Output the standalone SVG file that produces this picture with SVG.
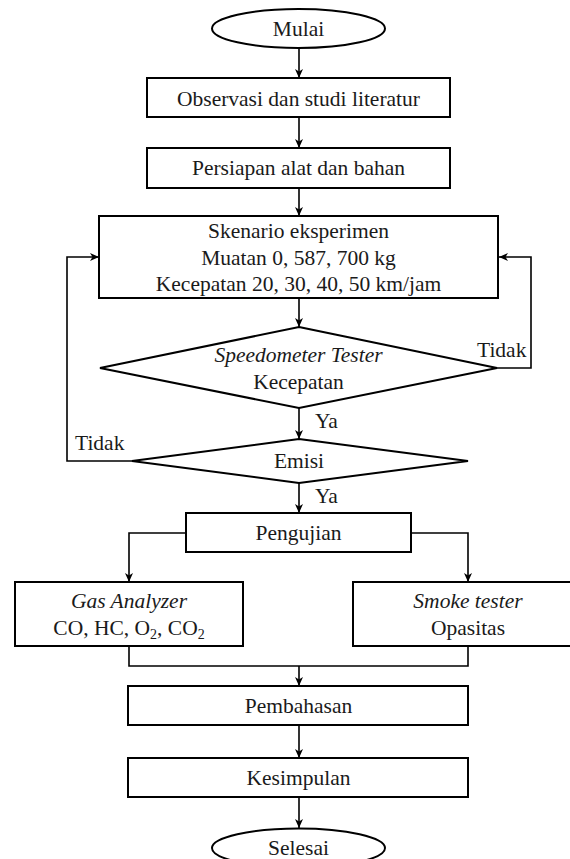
<svg xmlns="http://www.w3.org/2000/svg" width="570" height="859" viewBox="0 0 570 859">
<defs>
<style>
.n{fill:#fff;stroke:#000;stroke-width:2}
.t{font-family:'Liberation Serif','DejaVu Serif',serif;font-size:21.5px;fill:#1a1a1a;text-anchor:middle}
.l{font-family:'Liberation Serif','DejaVu Serif',serif;font-size:21.5px;fill:#1a1a1a}
.i{font-style:italic}
.c{fill:none;stroke:#000;stroke-width:1.6}
.a{marker-end:url(#ah)}
</style>
<marker id="ah" markerUnits="userSpaceOnUse" markerWidth="10" markerHeight="10" refX="9" refY="4" orient="auto">
<path d="M0,0 L9,4 L0,8 L2.5,4 z" fill="#000"/>
</marker>
</defs>
<rect width="570" height="859" fill="#fff"/>
<g id="connectors">
<line class="c a" x1="299" y1="48" x2="299" y2="78"/>
<line class="c a" x1="299" y1="117" x2="299" y2="148"/>
<line class="c a" x1="299" y1="188" x2="299" y2="216"/>
<line class="c a" x1="299" y1="298" x2="299" y2="327"/>
<line class="c a" x1="299" y1="408" x2="299" y2="439"/>
<polyline class="c a" points="497,368 531,368 531,257 499,257"/>
<polyline class="c a" points="132,461 67,461 67,257 99,257"/>
<line class="c a" x1="299" y1="483" x2="299" y2="513"/>
<polyline class="c a" points="186,533 129,533 129,582"/>
<polyline class="c a" points="411,533 468,533 468,582"/>
<polyline class="c" points="129,646 129,666 468,666 468,646"/>
<line class="c a" x1="299" y1="666" x2="299" y2="686"/>
<line class="c a" x1="299" y1="725" x2="299" y2="758"/>
<line class="c a" x1="299" y1="797" x2="299" y2="828"/>
<text class="l" font-family="Liberation Serif, serif" x="315" y="428">Ya</text>
<text class="l" font-family="Liberation Serif, serif" x="315" y="503">Ya</text>
<text class="l" font-family="Liberation Serif, serif" x="477" y="357">Tidak</text>
<text class="l" font-family="Liberation Serif, serif" x="75" y="450">Tidak</text>
</g>
<g id="mulai">
<ellipse class="n" cx="298.5" cy="28.5" rx="86.5" ry="19.5"/>
<text class="t" font-family="Liberation Serif, serif" x="298.5" y="36">Mulai</text>
</g>
<g id="observasi">
<rect class="n" x="147" y="78" width="303" height="39"/>
<text class="t" font-family="Liberation Serif, serif" x="298.5" y="106">Observasi dan studi literatur</text>
</g>
<g id="persiapan">
<rect class="n" x="147" y="148" width="303" height="40"/>
<text class="t" font-family="Liberation Serif, serif" x="298.5" y="175">Persiapan alat dan bahan</text>
</g>
<g id="skenario">
<rect class="n" x="99" y="216" width="399" height="82"/>
<text class="t" font-family="Liberation Serif, serif" x="298.5" y="238">Skenario eksperimen</text>
<text class="t" font-family="Liberation Serif, serif" x="298.5" y="265">Muatan 0, 587, 700 kg</text>
<text class="t" font-family="Liberation Serif, serif" x="298.5" y="291">Kecepatan 20, 30, 40, 50 km/jam</text>
</g>
<g id="speedometer">
<polygon class="n" points="299,327 497,368 299,408 100,368"/>
<text class="t i" font-family="Liberation Serif, serif" x="298.5" y="362">Speedometer Tester</text>
<text class="t" font-family="Liberation Serif, serif" x="298.5" y="389">Kecepatan</text>
</g>
<g id="emisi">
<polygon class="n" points="299,439 468,461 299,483 132,461"/>
<text class="t" font-family="Liberation Serif, serif" x="299" y="468">Emisi</text>
</g>
<g id="pengujian">
<rect class="n" x="186" y="513" width="225" height="39"/>
<text class="t" font-family="Liberation Serif, serif" x="298.5" y="540">Pengujian</text>
</g>
<g id="gas">
<rect class="n" x="15" y="582" width="228" height="64"/>
<text class="t i" font-family="Liberation Serif, serif" x="129" y="608">Gas Analyzer</text>
<text class="t" font-family="Liberation Serif, serif" x="129" y="635">CO, HC, O<tspan font-size="14" dy="4">2</tspan><tspan dy="-4">, CO</tspan><tspan font-size="14" dy="4">2</tspan></text>
</g>
<g id="smoke">
<rect class="n" x="353" y="582" width="232" height="64"/>
<text class="t i" font-family="Liberation Serif, serif" x="468" y="608">Smoke tester</text>
<text class="t" font-family="Liberation Serif, serif" x="468" y="635">Opasitas</text>
</g>
<g id="pembahasan">
<rect class="n" x="128" y="686" width="340" height="39"/>
<text class="t" font-family="Liberation Serif, serif" x="298.5" y="713">Pembahasan</text>
</g>
<g id="kesimpulan">
<rect class="n" x="128" y="758" width="340" height="39"/>
<text class="t" font-family="Liberation Serif, serif" x="298.5" y="785">Kesimpulan</text>
</g>
<g id="selesai">
<ellipse class="n" cx="298.5" cy="848" rx="86.5" ry="19.5"/>
<text class="t" font-family="Liberation Serif, serif" x="298.5" y="855">Selesai</text>
</g>
</svg>
